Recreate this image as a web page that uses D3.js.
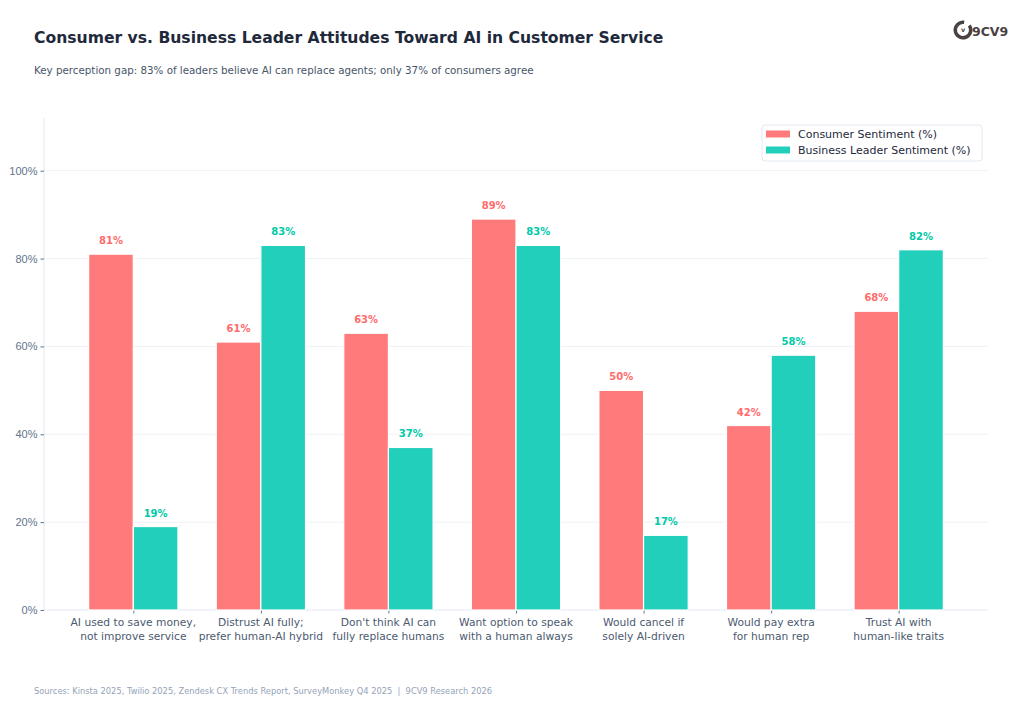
<!DOCTYPE html>
<html>
<head>
<meta charset="utf-8">
<script src="https://cdn.jsdelivr.net/npm/d3@7"></script>
<style>
  body { margin: 0; background: #fff; }
  svg { font-family: "DejaVu Sans", sans-serif; }
</style>
</head>
<body>
<div id="chart"></div>
<script>
// categories and values
var categories = [
    ["AI used to save money,", "not improve service"],
    ["Distrust AI fully;", "prefer human-AI hybrid"],
    ["Don't think AI can", "fully replace humans"],
    ["Want option to speak", "with a human always"],
    ["Would cancel if", "solely AI-driven"],
    ["Would pay extra", "for human rep"],
    ["Trust AI with", "human-like traits"]
];
var consumer = [81, 61, 63, 89, 50, 42, 68];
var business = [19, 83, 37, 83, 17, 58, 82];
var series_names = ["Consumer Sentiment (%)", "Business Leader Sentiment (%)"];
var y_ticks = [0, 20, 40, 60, 80, 100];

var svg_size = {'width': 1024, 'height': 703};
var plot = {'left': 44, 'right': 988, 'top': 118, 'bottom': 610};
var colors = {
    'fill': ['#ff7b7b', '#22cfbb'],
    'label': ['#ff6b6b', '#00c9a7']
};

var svg = d3.select("#chart").append("svg")
    .attr("width", svg_size.width)
    .attr("height", svg_size.height);

var x_scale = d3.scaleLinear()
    .domain([-0.7, categories.length - 0.3])
    .range([plot.left, plot.right]);

var y_scale = d3.scaleLinear()
    .domain([0, 112])
    .range([plot.bottom, plot.top]);

var bar_w = (x_scale(0.35) - x_scale(0));

// grid
svg.append("g").selectAll("line")
    .data(y_ticks.slice(1))
    .enter().append("line")
    .attr("x1", plot.left).attr("x2", plot.right)
    .attr("y1", function(d){ return y_scale(d); })
    .attr("y2", function(d){ return y_scale(d); })
    .style("stroke", "#eef2f6")
    .style("stroke-width", 1);

// y axis
var y_axis = d3.axisLeft(y_scale)
    .tickValues(y_ticks)
    .tickSize(3.5)
    .tickPadding(3)
    .tickFormat(function(d){ return d + "%"; });

var y_group = svg.append("g")
    .attr("transform", "translate(" + plot.left + ",0)")
    .call(y_axis);
y_group.select(".domain").attr("d", "M0," + plot.top + "V" + plot.bottom).style("stroke", "#e2e8f0");
y_group.selectAll(".tick line").style("stroke", "#64748b");
y_group.selectAll(".tick text").style("fill", "#64748b").style("font-size", "11px");

// x axis
var x_axis = d3.axisBottom(x_scale)
    .tickValues(d3.range(categories.length))
    .tickSize(3.5)
    .tickFormat("");

var x_group = svg.append("g")
    .attr("transform", "translate(0," + plot.bottom + ")")
    .call(x_axis);
x_group.select(".domain").attr("d", "M" + plot.left + ",0H" + plot.right).style("stroke", "#e2e8f0");
x_group.selectAll(".tick line").style("stroke", "#64748b");

var x_labels = svg.append("g").selectAll(".x-label")
    .data(categories)
    .enter().append("text")
    .attr("text-anchor", "middle")
    .style("fill", "#4b5a70")
    .style("font-size", "10.7px");
x_labels.each(function(d, i){
    var t = d3.select(this);
    d.forEach(function(line, j){
        t.append("tspan")
            .attr("x", x_scale(i))
            .attr("y", plot.bottom + 16 + j * 13.5)
            .text(line);
    });
});

// bars
var all_series = [consumer, business];
all_series.forEach(function(values, s){
    var g = svg.append("g");
    g.selectAll("rect")
        .data(values)
        .enter().append("rect")
        .attr("x", function(d, i){ return x_scale(i) + (s === 0 ? -bar_w : 0); })
        .attr("y", function(d){ return y_scale(d); })
        .attr("width", bar_w)
        .attr("height", function(d){ return plot.bottom - y_scale(d); })
        .style("fill", colors.fill[s])
        .style("stroke", "#ffffff")
        .style("stroke-width", 1.2);

    g.selectAll("text")
        .data(values)
        .enter().append("text")
        .attr("x", function(d, i){ return x_scale(i) + (s === 0 ? -bar_w/2 : bar_w/2); })
        .attr("y", function(d){ return y_scale(d) - 10; })
        .attr("text-anchor", "middle")
        .style("font-size", "10px")
        .style("font-weight", "bold")
        .style("fill", colors.label[s])
        .text(function(d){ return d + "%"; });
});

// legend
var legend = svg.append("g").attr("transform", "translate(762,125)");
legend.append("rect")
    .attr("width", 220).attr("height", 36)
    .attr("rx", 3)
    .style("fill", "#ffffff")
    .style("stroke", "#e2e8f0");
var legend_item = legend.selectAll(".legend-item")
    .data(series_names)
    .enter().append("g")
    .attr("transform", function(d, i){ return "translate(0," + (9 + i * 16) + ")"; });
legend_item.append("rect")
    .attr("x", 4).attr("y", -3.5)
    .attr("width", 24).attr("height", 7)
    .style("fill", function(d, i){ return colors.fill[i]; });
legend_item.append("text")
    .attr("x", 36).attr("y", 0)
    .attr("dominant-baseline", "central")
    .style("font-size", "11px")
    .style("fill", "#1e293b")
    .text(function(d){ return d; });

// titles
svg.append("text")
    .attr("x", 34).attr("y", 43)
    .style("font-size", "15.6px")
    .style("font-weight", "bold")
    .style("fill", "#1e293b")
    .text("Consumer vs. Business Leader Attitudes Toward AI in Customer Service");

svg.append("text")
    .attr("x", 34).attr("y", 74)
    .style("font-size", "10.3px")
    .style("fill", "#475569")
    .text("Key perception gap: 83% of leaders believe AI can replace agents; only 37% of consumers agree");

svg.append("text")
    .attr("x", 34).attr("y", 694)
    .style("font-size", "8.3px")
    .style("fill", "#94a3b8")
    .style("white-space", "pre")
    .text("Sources: Kinsta 2025, Twilio 2025, Zendesk CX Trends Report, SurveyMonkey Q4 2025  |  9CV9 Research 2026");

// logo
var logo = svg.append("g").attr("transform", "translate(963,30)");
logo.append("path")
    .attr("d", d3.arc()({innerRadius: 6, outerRadius: 9.5, startAngle: 0.95, endAngle: 2 * Math.PI + 0.15}))
    .style("fill", "#4a4242");
logo.append("text")
    .attr("x", 0).attr("y", 2)
    .attr("text-anchor", "middle")
    .style("font-size", "6.5px")
    .style("font-weight", "bold")
    .style("fill", "#4a4242")
    .text("v");
logo.append("text")
    .attr("x", 9).attr("y", 6)
    .style("font-size", "12.5px")
    .style("font-weight", "bold")
    .style("fill", "#4a4242")
    .text("9CV9");
</script>
</body>
</html>
